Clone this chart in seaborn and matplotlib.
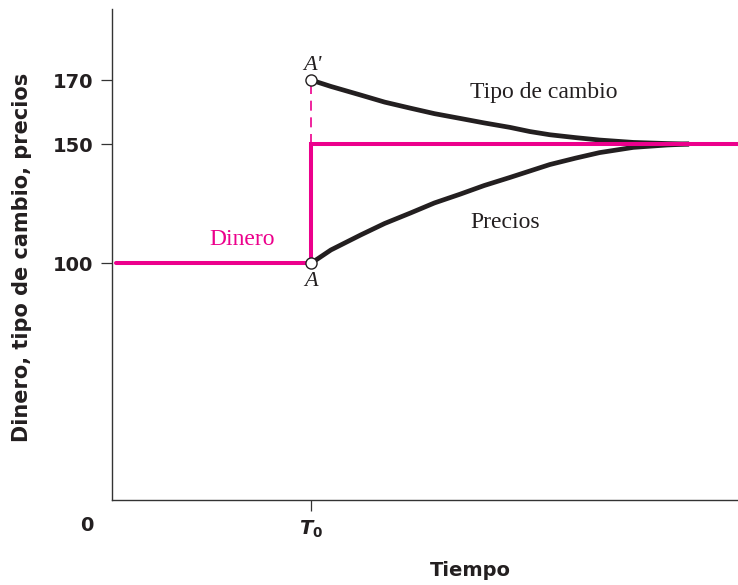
import numpy as np
import pandas as pd
import matplotlib
matplotlib.use("Agg")
import matplotlib.pyplot as plt
import seaborn as sns

# Values (time in units of T0)
T0 = 1.0
tiempo = [1.0, 1.1, 1.25, 1.37, 1.5, 1.62, 1.75, 1.87, 2.0, 2.1, 2.2, 2.33, 2.45, 2.62, 2.79, 2.9]
tipo_cambio = [170, 168.0, 165.3, 163.1, 161.2, 159.5, 158.0, 156.6, 155.2, 153.9, 152.9, 152.0,
               151.25, 150.5, 150.15, 150]
precios = [100, 105.6, 111.9, 116.7, 121.1, 125.3, 129.0, 132.6, 136.0, 138.7, 141.4, 144.1,
           146.4, 148.6, 149.6, 150]

dinero_t = [0.02, 1.0, 1.0, 3.2]
dinero_v = [100, 100, 150, 150]

yticks = [100, 150, 170]

PINK = "#EC008C"
BLACK = "#231F20"

sns.set_style("ticks")
plt.rcParams["font.family"] = ["DejaVu Sans"]
plt.rcParams["mathtext.fontset"] = "dejavusans"

# schematic (non-linear) vertical axis, as in the textbook figure
val_knots = [-100, 0, 100, 150, 170, 400]
pos_knots = [-236.2, 0, 236.2, 355.5, 419.5, 419.5 + 230 * 3.2]


def fwd(v):
    return np.interp(v, val_knots, pos_knots)


def inv(p):
    return np.interp(p, pos_knots, val_knots)


fig = plt.figure(figsize=(7.38, 5.85), dpi=100)
ax = fig.add_axes([112 / 738, 85.5 / 585, 626 / 738, 490.5 / 585])
ax.set_yscale("function", functions=(fwd, inv))

curves = pd.DataFrame({"Tiempo": tiempo, "Tipo de cambio": tipo_cambio, "Precios": precios})
money = pd.DataFrame({"Tiempo": dinero_t, "Dinero": dinero_v})

sns.lineplot(data=money, x="Tiempo", y="Dinero", ax=ax, color=PINK, linewidth=2.9,
             estimator=None, sort=False, zorder=3, solid_joinstyle="miter")
for col in ["Tipo de cambio", "Precios"]:
    sns.lineplot(data=curves, x="Tiempo", y=col, ax=ax, color=BLACK, linewidth=3.4,
                 estimator=None, sort=False, zorder=2, solid_capstyle="butt",
                 solid_joinstyle="round")

# dashed jump of the exchange rate
ax.plot([T0, T0], [150, tipo_cambio[0]], color=PINK, linewidth=1.2, dashes=(6, 4), zorder=1)

# points A and A'
ax.plot([T0, T0], [precios[0], tipo_cambio[0]], linestyle="none", marker="o", markersize=8,
        markerfacecolor="white", markeredgecolor=BLACK, markeredgewidth=1.0, zorder=5)

serif = ["Liberation Serif", "DejaVu Serif"]
ax.annotate("A'", (T0, tipo_cambio[0]), xytext=(1, 15), textcoords="offset pixels",
            ha="center", va="center", fontsize=16, style="italic", family=serif, color=BLACK)
ax.annotate("A", (T0, precios[0]), xytext=(0, -18), textcoords="offset pixels",
            ha="center", va="center", fontsize=16, style="italic", family=serif, color=BLACK)
ax.text(1.799, 164.3, "Tipo de cambio", fontsize=17, family=serif, color=BLACK, va="baseline")
ax.text(1.799, 114.7, "Precios", fontsize=17, family=serif, color=BLACK, va="baseline")
ax.text(0.487, 107.7, "Dinero", fontsize=17, family=serif, color=PINK, va="baseline")

ax.annotate("0", (0, 0), xytext=(-25, -26), textcoords="offset pixels", ha="center",
            va="center", fontsize=14, fontweight="bold", color=BLACK, annotation_clip=False)

ax.set_xlim(0, 626 / 199)
ax.set_ylim(0, 192.2)
ax.set_yticks(yticks)
ax.set_yticklabels([str(v) for v in yticks])
ax.set_xticks([T0])
ax.set_xticklabels([r"$\mathbfit{T}_\mathbf{0}$"])
ax.yaxis.set_minor_locator(matplotlib.ticker.NullLocator())

for lab in ax.get_yticklabels():
    lab.set_fontweight("bold")
ax.tick_params(axis="both", labelsize=14, length=8, width=0.9, color="#333333", pad=5.5,
               labelcolor=BLACK)

for side in ["top", "right"]:
    ax.spines[side].set_visible(False)
for side in ["left", "bottom"]:
    ax.spines[side].set_linewidth(1.0)
    ax.spines[side].set_color("#333333")

ax.set_xlabel("Tiempo", fontsize=14, fontweight="bold", color=BLACK)
ax.set_ylabel("Dinero, tipo de cambio, precios", fontsize=15, fontweight="bold", color=BLACK)
ax.xaxis.set_label_coords(0.572, -0.125)
ax.yaxis.set_label_coords(-0.128, 0.494)

fig.savefig("out.png", dpi=100)
